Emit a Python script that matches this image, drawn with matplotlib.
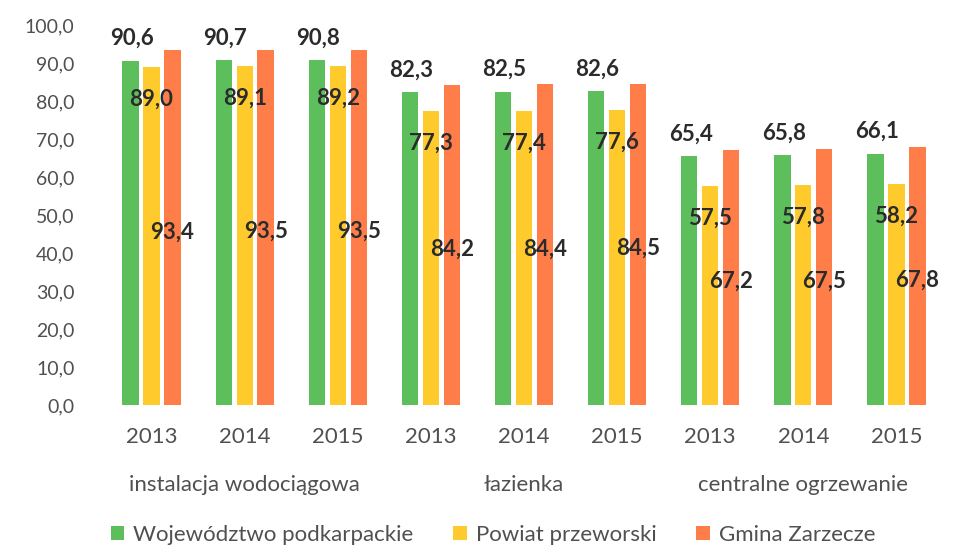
import matplotlib
matplotlib.use("Agg")
import matplotlib.pyplot as plt
import numpy as np

plt.rcParams['font.family'] = ['Lato', 'DejaVu Sans']

years = ["2013", "2014", "2015"] * 3
groups = ["instalacja wodociągowa", "łazienka", "centralne ogrzewanie"]
series_names = ["Województwo podkarpackie", "Powiat przeworski", "Gmina Zarzecze"]
woj = [90.6, 90.7, 90.8, 82.3, 82.5, 82.6, 65.4, 65.8, 66.1]
powiat = [89.0, 89.1, 89.2, 77.3, 77.4, 77.6, 57.5, 57.8, 58.2]
gmina = [93.4, 93.5, 93.5, 84.2, 84.4, 84.5, 67.2, 67.5, 67.8]
yticks = [0, 10, 20, 30, 40, 50, 60, 70, 80, 90, 100]

colors = ["#5DBF5B", "#FFCA2C", "#FF7D48"]
label_color = "#2b2b2b"
tick_color = "#505050"

def fmt(v):
    return f"{v:.1f}".replace(".", ",")

fig = plt.figure(figsize=(9.63, 5.55), dpi=100)
ax = fig.add_axes([105/963, 1-405/555, (943-105)/963, (405-25)/555])

x = np.arange(len(years))
w = 0.175
step = 0.225
vals = [woj, powiat, gmina]
bars = []
for i, (v, c) in enumerate(zip(vals, colors)):
    b = ax.bar(x + (i-1)*step, v, width=w, color=c, label=series_names[i], zorder=2)
    bars.append(b)

lab_fs = 16
# data labels
for xi, v in zip(x - step, woj):
    ax.annotate(fmt(v), (xi, v), xytext=(1, 16), textcoords="offset points",
                ha="center", va="center", fontsize=lab_fs, fontweight="bold", color=label_color)
for xi, v in zip(x, powiat):
    ax.annotate(fmt(v), (xi, v), xytext=(0, -23), textcoords="offset points",
                ha="center", va="center", fontsize=lab_fs, fontweight="bold", color=label_color)
for xi, v in zip(x + step, gmina):
    ax.annotate(fmt(v), (xi, v/2), xytext=(0, -3), textcoords="offset points",
                ha="center", va="center", fontsize=lab_fs, fontweight="bold", color=label_color)

ax.set_xlim(-0.5, len(years)-0.5)
ax.set_ylim(0, 100)
ax.set_yticks(yticks)
ax.set_yticklabels([fmt(t) for t in yticks], fontsize=14, color=tick_color)
ax.set_xticks(x)
ax.set_xticklabels(years, fontsize=16, color=tick_color)
ax.tick_params(axis='y', length=0, pad=22)
ax.tick_params(axis='x', length=0, pad=16)
for s in ax.spines.values():
    s.set_visible(False)

# group labels
for gi, g in enumerate(groups):
    ax.text(gi*3 + 1, -21, g, ha="center", va="center", fontsize=16, color=tick_color,
            transform=ax.transData, clip_on=False)

leg = fig.legend(handles=bars, labels=series_names, loc="center", bbox_to_anchor=(0.512, 1-535/555),
                 ncol=3, frameon=False, fontsize=16, handlelength=0.6, handleheight=0.6,
                 handletextpad=0.4, columnspacing=1.8)
for t in leg.get_texts():
    t.set_color(tick_color)

fig.savefig("out.png", dpi=100)
